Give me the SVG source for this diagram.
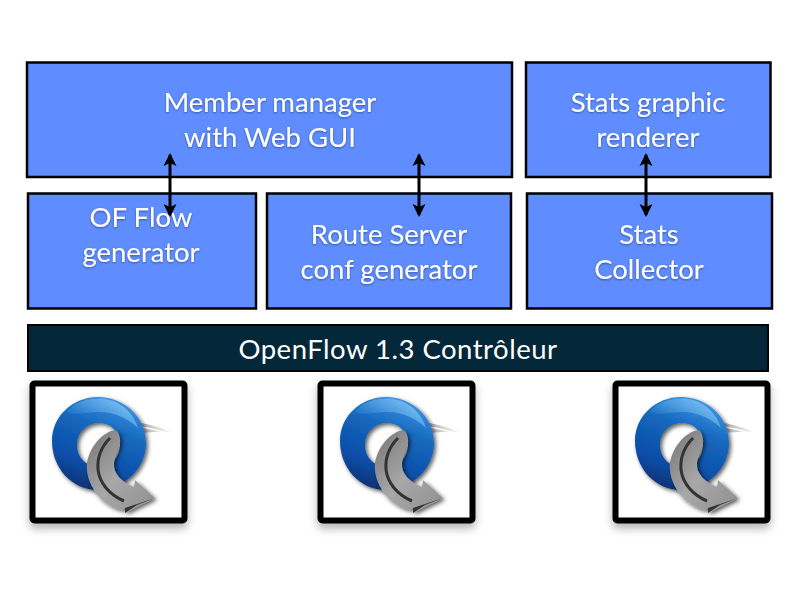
<svg xmlns="http://www.w3.org/2000/svg" width="800" height="600" viewBox="0 0 800 600">
<style>
.b{fill:#5f8dff;stroke:#000;stroke-width:2.5}
.t{font-family:Lato,"Noto Sans",sans-serif;font-size:27.500px;fill:#fff;text-anchor:middle;filter:url(#ts)}
.c{stroke:#000;stroke-width:3;fill:none;marker-start:url(#a);marker-end:url(#a)}
.f{fill:#fff;stroke:#000;stroke-width:6;filter:url(#fs)}
</style>
<defs>
<marker id="a" viewBox="0 0 14 14" refX="11" refY="7" markerUnits="userSpaceOnUse" markerWidth="14" markerHeight="14" orient="auto-start-reverse"><path d="M0 0.500L13 7L0 13.500L3 7Z" fill="#000"/></marker>
<filter id="ts" x="-10%" y="-20%" width="120%" height="150%"><feDropShadow dx="0" dy="1" stdDeviation="1" flood-color="#000" flood-opacity=".4"/></filter>
<filter id="fs" x="-10%" y="-10%" width="120%" height="125%"><feDropShadow dx="0" dy="5" stdDeviation="4" flood-color="#000" flood-opacity=".3"/></filter>
<filter id="sh" x="-20%" y="-20%" width="150%" height="150%"><feDropShadow dx="2" dy="2" stdDeviation="2" flood-color="#000" flood-opacity=".65"/></filter>
<linearGradient id="blue" x1=".7" y1="0" x2=".3" y2="1"><stop offset="0" stop-color="#3f97e4"/><stop offset=".35" stop-color="#1567bd"/><stop offset=".75" stop-color="#0a4ca6"/><stop offset="1" stop-color="#07306f"/></linearGradient>
<linearGradient id="hi" x1="1" y1="0" x2="0" y2=".6"><stop offset="0" stop-color="#9bd4fa" stop-opacity=".9"/><stop offset="1" stop-color="#5fb0ee" stop-opacity=".05"/></linearGradient>
<linearGradient id="gray" x1="0" y1="0" x2="1" y2="1"><stop offset="0" stop-color="#747474"/><stop offset=".5" stop-color="#a8a8a8"/><stop offset="1" stop-color="#8e8e8e"/></linearGradient>
<linearGradient id="tail" x1="0" y1="0" x2="1" y2="0"><stop offset="0" stop-color="#555"/><stop offset="1" stop-color="#aaa" stop-opacity=".15"/></linearGradient>
<g id="icon">
<path d="M120 421C135 421 152 424 171 432C152 431 135 434 122 436Z" fill="url(#tail)"/>
<path d="M140 427C150 428 158 430 166 433" fill="none" stroke="#fff" stroke-width="1.500"/>
<path fill-rule="evenodd" d="M98 397C124 397 146 417 146 443C146 470 122 490 98 490C72 490 52 468 52 441C52 416 73 397 98 397ZM99 423C87 423 77 432 77 445C77 458 87 467 99 467C112 467 120 456 120 445C120 432 111 423 99 423Z" fill="url(#blue)" filter="url(#sh)"/>
<path d="M66 412C76 401 92 397 106 399C122 402 134 414 138 428C126 416 110 411 96 412C84 413 74 415 66 412Z" fill="url(#hi)"/>
<path d="M115 430C101 433 90 447 87 463C85 483 100 505 122 510L126 507L125 513L155 498L135 480L134 487C122 482 113 474 114 463C115 452 121 449 120 439C119 434 118 431 115 430Z" fill="url(#gray)" filter="url(#sh)"/>
<path d="M110 438C101 447 97 458 98 470C100 484 110 495 124 501" fill="none" stroke="#333" stroke-width="3"/>
<path d="M125 508L155 498L137 505L125 513Z" fill="#333"/>
</g>
</defs>
<rect width="800" height="600" fill="#fff"/>
<g id="member-manager"><rect class="b" x="27" y="62.500" width="485" height="114.500"/><text class="t" x="270" y="112">Member manager</text><text class="t" x="270" y="147">with Web GUI</text></g>
<g id="stats-renderer"><rect class="b" x="526" y="62.500" width="244.500" height="114.500"/><text class="t" x="648" y="112">Stats graphic</text><text class="t" x="648" y="147">renderer</text></g>
<g id="of-flow"><rect class="b" x="28" y="193.500" width="228" height="115"/><text class="t" x="141" y="227">OF Flow</text><text class="t" x="141" y="262">generator</text></g>
<g id="route-server"><rect class="b" x="267" y="193.500" width="244" height="115"/><text class="t" x="389" y="244">Route Server</text><text class="t" x="389" y="279">conf generator</text></g>
<g id="stats-collector"><rect class="b" x="527" y="193.500" width="245" height="115"/><text class="t" x="649" y="244">Stats</text><text class="t" x="649" y="279">Collector</text></g>
<g id="controller"><rect x="28" y="325" width="740" height="46" fill="#032839" stroke="#000" stroke-width="2"/><text x="398" y="359" font-family="Lato,'Noto Sans',sans-serif" font-size="27.500" letter-spacing=".5" fill="#fff" text-anchor="middle">OpenFlow 1.3 Contrôleur</text></g>
<g id="switch-1"><rect class="f" x="32.500" y="383.500" width="152" height="137" rx="2"/><use href="#icon"/></g>
<g id="switch-2"><rect class="f" x="320.500" y="383.500" width="152" height="137" rx="2"/><use href="#icon" x="288"/></g>
<g id="switch-3"><rect class="f" x="615.500" y="383.500" width="152" height="137" rx="2"/><use href="#icon" x="583"/></g>
<g id="connectors">
<path class="c" d="M170 155V215"/>
<path class="c" d="M419 155V215"/>
<path class="c" d="M646 155V215"/>
</g>
</svg>
